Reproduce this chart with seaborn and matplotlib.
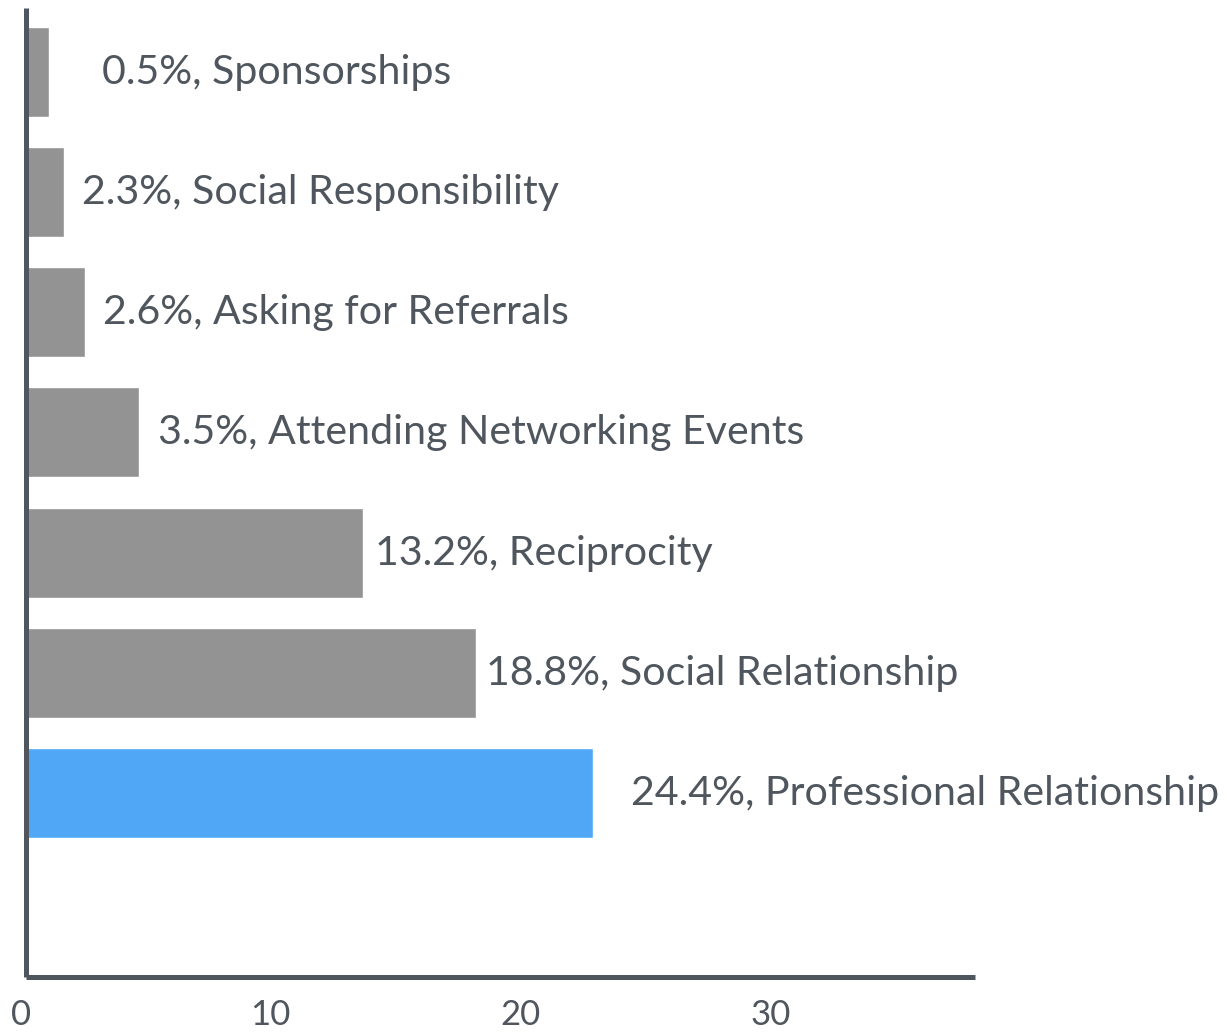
import matplotlib
matplotlib.use("Agg")
import matplotlib.pyplot as plt
import matplotlib.transforms as mtransforms
import seaborn as sns
import pandas as pd

# ---- data ----
categories = ["Sponsorships", "Social Responsibility", "Asking for Referrals",
              "Attending Networking Events", "Reciprocity", "Social Relationship",
              "Professional Relationship"]
bar_values = [0.92, 1.52, 2.36, 4.53, 13.5, 18.0, 22.7]
label_pcts = ["0.5", "2.3", "2.6", "3.5", "13.2", "18.8", "24.4"]
x_ticks = [0, 10, 20, 30]

# ---- style ----
sns.set_style("white")
plt.rcParams["font.family"] = ["Lato", "DejaVu Sans"]

gray = "#939393"
blue = "#50a7f5"
bar_colors = [gray] * 6 + [blue]
text_color = "#50565e"
spine_color = "#50565e"
label_gap_px = [53, 18, 18, 19, 12, 10, 38]
fs_label = 29.6
fs_tick = 25

W, H, DPI = 1227, 1033, 100
fig = plt.figure(figsize=(W / DPI, H / DPI), dpi=DPI)
ax = fig.add_axes([26 / W, 56 / H, (975 - 26) / W, (977 - 8) / H])

df = pd.DataFrame({"category": categories, "value": bar_values})
sns.barplot(data=df, x="value", y="category", hue="category",
            palette=bar_colors, legend=False, orient="h", width=0.75,
            saturation=1, ax=ax)

ax.set_xlim(0, 38)
ax.set_ylim(7.53, -0.53)

for s in ["top", "right"]:
    ax.spines[s].set_visible(False)
for s in ["left", "bottom"]:
    ax.spines[s].set_color(spine_color)
    ax.spines[s].set_linewidth(3.6)
    ax.spines[s].set_capstyle("butt")

ax.set_yticks([])
ax.set_xlabel("")
ax.set_ylabel("")
ax.set_xticks(x_ticks)
ax.set_xticklabels([str(t) for t in x_ticks])
ax.tick_params(axis="x", length=0, pad=16, labelsize=fs_tick, labelcolor=text_color)
shift = mtransforms.ScaledTranslation(-5 / DPI, 0, fig.dpi_scale_trans)
for lab in ax.get_xticklabels():
    lab.set_transform(lab.get_transform() + shift)

for i, (cat, val, pct, gap) in enumerate(zip(categories, bar_values, label_pcts, label_gap_px)):
    ax.annotate(f"{pct}%, {cat}", xy=(val, i), xytext=(gap * 0.72, -12 * 0.72),
                textcoords="offset points", ha="left", va="baseline",
                fontsize=fs_label, color=text_color, annotation_clip=False)

fig.savefig("out.png", dpi=DPI)
